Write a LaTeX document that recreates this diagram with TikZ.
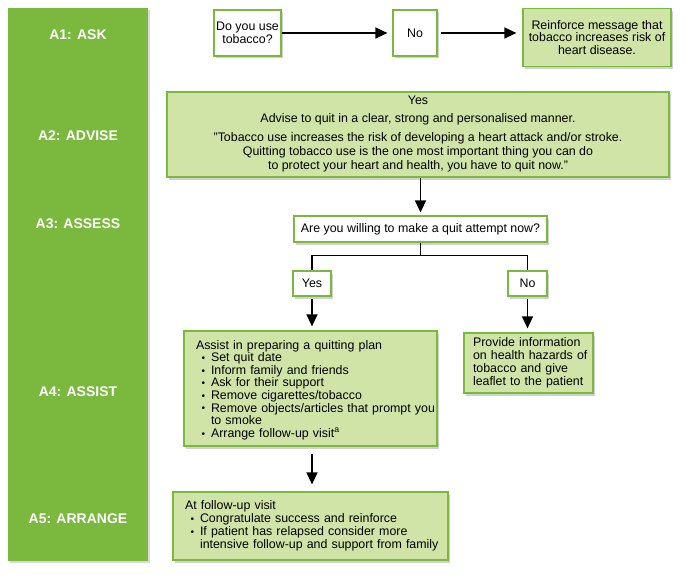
\documentclass[tikz,border=0pt]{standalone}
\usepackage{fontspec}
\setmainfont{Liberation Sans}
\usetikzlibrary{arrows.meta,shadows,calc}
\definecolor{barg}{HTML}{7AB93D}
\definecolor{boxg}{HTML}{D0E4A8}
\definecolor{edgeg}{HTML}{7AB93D}
\newcommand{\bl}{\hspace*{17.5pt}\makebox[9.5pt][l]{\raisebox{0.3pt}{\fontsize{10}{10}\selectfont\textbullet}}}
\newcommand{\cont}{\hspace*{27pt}}
\begin{document}
\begin{tikzpicture}[x=1pt,y=-1pt,
  shad/.style={drop shadow={shadow xshift=2pt,shadow yshift=-2.5pt,fill=black,opacity=.18}},
  gbox/.style={draw=edgeg,line width=1.2pt,fill=boxg,shad,inner sep=0pt,font=\fontsize{12.4}{12.6}\selectfont},
  wbox/.style={draw=edgeg,line width=1.2pt,fill=white,shad,inner sep=0pt,font=\fontsize{12.4}{12.6}\selectfont},
  lbl/.style={text=white,font=\bfseries\fontsize{14}{14}\selectfont},
  arr/.style={draw=black,line width=1.3pt,-{Triangle[length=12pt,width=11pt]}},
  ln/.style={draw=black,line width=1.3pt}]
\useasboundingbox (0,0) rectangle (685,575);
% left bar
\node[fill=barg,minimum width=140pt,minimum height=553pt,inner sep=0pt,
  drop shadow={shadow xshift=2pt,shadow yshift=-2pt,fill=black,opacity=.15}] (bar) at (78,284.5) {};
\node[lbl] (l1) at (78,35) {A1: ASK};
\node[lbl] (l2) at (78,136) {A2: ADVISE};
\node[lbl] (l3) at (78,224) {A3: ASSESS};
\node[lbl] (l4) at (78,392) {A4: ASSIST};
\node[lbl] (l5) at (78,519) {A5: ARRANGE};
% A1
\node[wbox,minimum width=67pt,minimum height=46pt,align=center,
  font=\fontsize{12.4}{13.5}\selectfont] (q1) at (247.5,33) {Do you use\\tobacco?};
\node[wbox,minimum width=44pt,minimum height=46pt] (no1) at (415,33) {No};
\node[gbox,minimum width=148pt,minimum height=58pt,align=center] (reinf) at (597,37.5)
  {Reinforce message that\\tobacco increases risk of\\heart disease.};
% A2
\node[gbox,minimum width=502pt,minimum height=85pt,align=center,
  font=\fontsize{12.4}{14}\selectfont] (advise) at (418,134.5)
  {Yes\\[4pt]Advise to quit in a clear, strong and personalised manner.\\[5pt]
   "Tobacco use increases the risk of developing a heart attack and/or stroke.\\
   Quitting tobacco use is the one most important thing you can do\\
   to protect your heart and health, you have to quit now."};
% A3
\node[wbox,minimum width=253pt,minimum height=26pt] (quit) at (420.5,229) {Are you willing to make a quit attempt now?};
\node[wbox,minimum width=38pt,minimum height=25pt] (yes) at (312,283.5) {Yes};
\node[wbox,minimum width=39pt,minimum height=25pt] (no2) at (527.5,283.5) {No};
% A4
\node[gbox,minimum width=253pt,minimum height=115pt,text width=253pt,align=left] (assist) at (310.5,388.5)
  {\rule{0pt}{12pt}\hspace*{12pt}Assist in preparing a quitting plan\\
   \bl Set quit date\\
   \bl Inform family and friends\\
   \bl Ask for their support\\
   \bl Remove cigarettes/tobacco\\
   \bl Remove objects/articles that prompt you\\
   \cont to smoke\\
   \bl Arrange follow-up visit\textsuperscript{a}};
\node[gbox,minimum width=129pt,minimum height=60pt,text width=129pt,align=left,
  font=\fontsize{12.4}{13}\selectfont] (provide) at (528.5,363)
  {\hspace*{9pt}Provide information\\\hspace*{9pt}on health hazards of\\\hspace*{9pt}tobacco and give\\\hspace*{9pt}leaflet to the patient};
% A5
\node[gbox,minimum width=275pt,minimum height=68pt,text width=275pt,
  align=left,font=\fontsize{12.4}{13}\selectfont] (arrange) at (310.5,526)
  {\hspace*{12pt}At follow-up visit\\
   \bl Congratulate success and reinforce\\
   \bl If patient has relapsed consider more\\
   \cont intensive follow-up and support from family};
% connectors
\draw[arr,shorten >=5pt] (q1.east) -- (no1.west);
\draw[arr,shorten <=3pt,shorten >=6pt] (no1.east) -- (no1.east -| reinf.west);
\draw[arr,shorten >=3pt] (quit.north |- advise.south) -- (quit.north);
\coordinate (fork) at ($(quit.south)+(0,13)$);
\draw[ln] (quit.south) -- (fork);
\draw[ln] (fork) -| (yes.north);
\draw[ln] (fork) -| (no2.north);
\draw[arr,shorten <=2pt,shorten >=4pt] (yes.south) -- (yes.south |- assist.north);
\draw[arr,shorten <=2pt,shorten >=4pt] (no2.south) -- (no2.south |- provide.north);
\draw[arr,shorten <=7pt,shorten >=7pt] (assist.south -| yes.south) -- (arrange.north -| yes.south);
\end{tikzpicture}
\end{document}
